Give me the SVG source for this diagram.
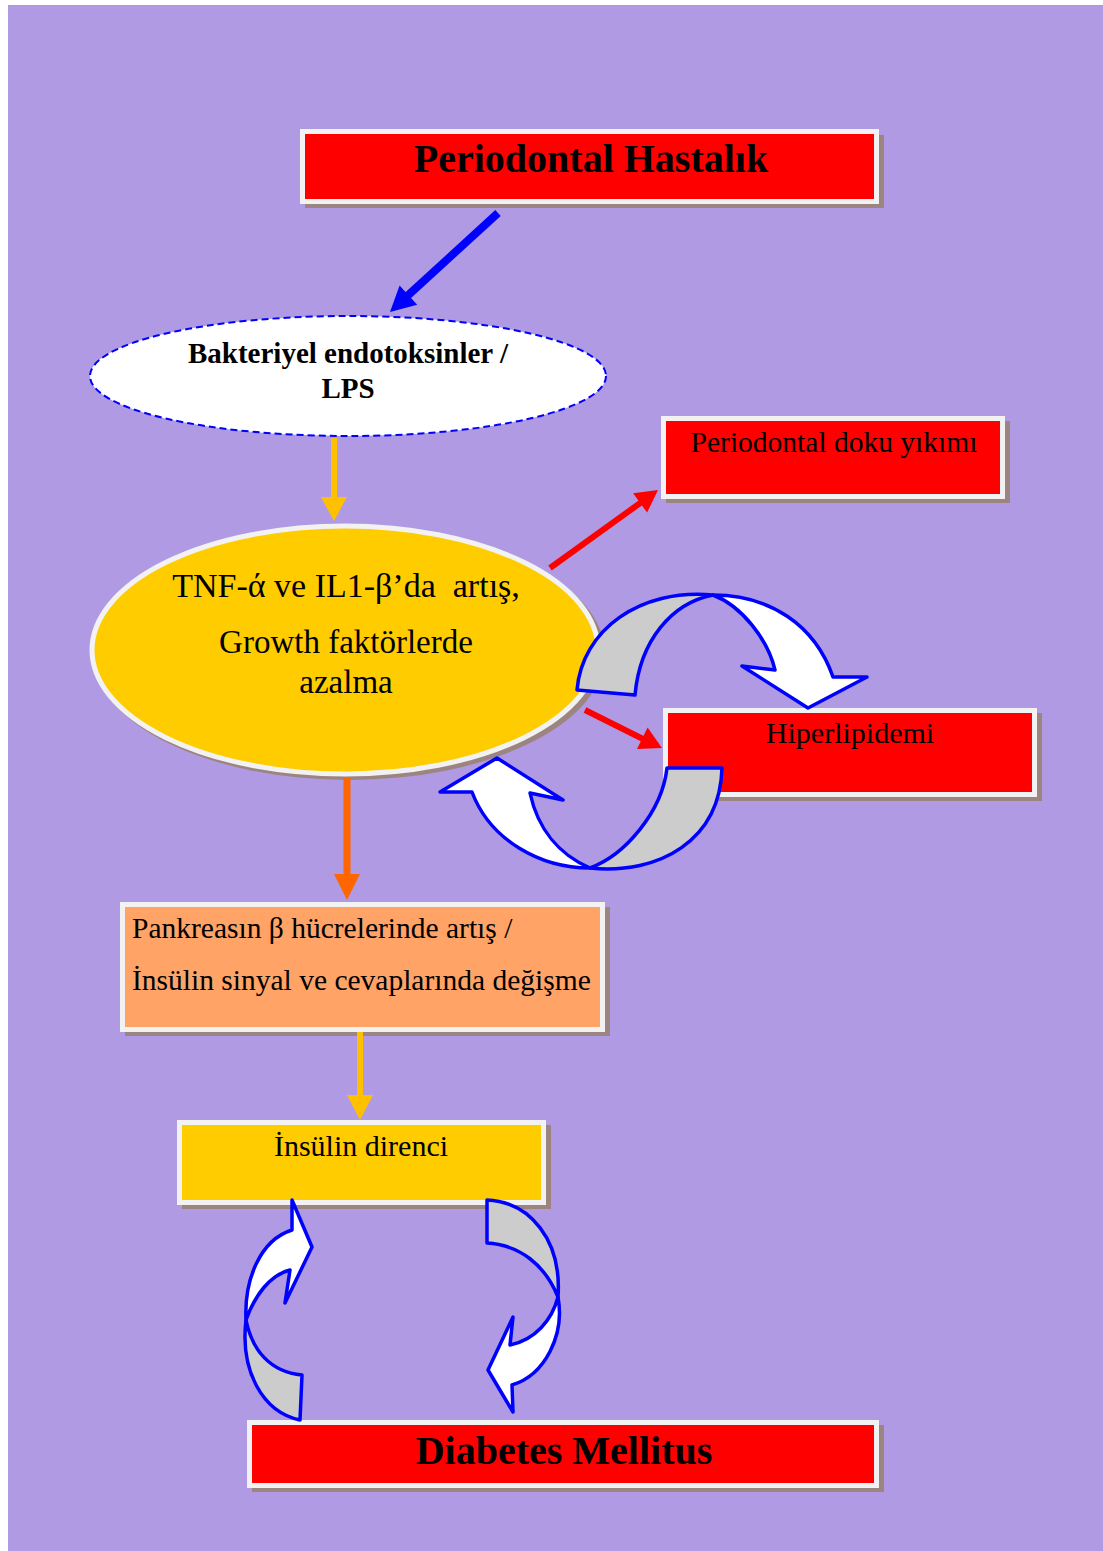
<svg xmlns="http://www.w3.org/2000/svg" width="1103" height="1551" viewBox="0 0 1103 1551">
<style>
.box{stroke:#F2F2F2;stroke-width:5}
.shadow{fill:#9C8580}
.red{fill:#FF0000}
.t{font-family:"Liberation Serif","Times New Roman",serif;fill:#000;text-anchor:middle}
.l{text-anchor:start}
.b{font-weight:bold}
.curve{stroke:#0000FF;stroke-width:3.5;stroke-linejoin:round}
.gray{fill:#CCCCCC}
.white{fill:#FFFFFF}
</style>
<rect x="0" y="0" width="1103" height="1551" fill="#FFFFFF"/>
<rect x="8" y="5" width="1095" height="1546" fill="#B09AE4"/>
<line x1="8" y1="5.5" x2="1103" y2="5.5" stroke="#A8A0B8" stroke-width="1"/>

<g id="node-periodontal-hastalik">
<rect class="shadow" x="305" y="135" width="579" height="73"/>
<rect class="box red" x="302.5" y="131.5" width="574" height="70"/>
<text class="t b" x="591" y="172" font-size="40">Periodontal Hastalık</text>
</g>

<g id="node-bakteriyel">
<ellipse cx="348" cy="376" rx="258" ry="60" fill="#FFFFFF" stroke="#0000FF" stroke-width="2" stroke-dasharray="7,4"/>
<text class="t b" x="348" y="363" font-size="29">Bakteriyel endotoksinler /</text>
<text class="t b" x="348" y="398" font-size="29">LPS</text>
</g>

<g id="node-tnf">
<ellipse cx="349" cy="654" rx="256" ry="126" class="shadow"/>
<ellipse cx="345" cy="650" rx="253" ry="124" fill="#FFCC00" stroke="#F2F2F2" stroke-width="5"/>
<text class="t" x="346" y="597" font-size="34" xml:space="preserve">TNF-ά ve IL1-β’da  artış,</text>
<text class="t" x="346" y="653" font-size="33">Growth faktörlerde</text>
<text class="t" x="346" y="693" font-size="33">azalma</text>
</g>

<g id="node-periodontal-doku">
<rect class="shadow" x="666" y="421" width="344" height="82"/>
<rect class="box red" x="663.5" y="418.5" width="339" height="78"/>
<text class="t" x="834" y="452" font-size="29.5">Periodontal doku yıkımı</text>
</g>

<g id="node-hiperlipidemi">
<rect class="shadow" x="668" y="713" width="374" height="88"/>
<rect class="box red" x="665.5" y="710.5" width="369" height="84"/>
<text class="t" x="850" y="743" font-size="30">Hiperlipidemi</text>
</g>

<g id="node-pankreas">
<rect class="shadow" x="125" y="907" width="485" height="129"/>
<rect class="box" fill="#FFA366" x="122.5" y="904.5" width="480" height="125"/>
<text class="t l" x="132" y="938" font-size="29.5">Pankreasın β hücrelerinde artış /</text>
<text class="t l" x="132" y="990" font-size="29.5">İnsülin sinyal ve cevaplarında değişme</text>
</g>

<g id="node-insulin-direnci">
<rect class="shadow" x="182" y="1125" width="369" height="84"/>
<rect class="box" fill="#FFCC00" x="179.5" y="1122.5" width="364" height="80"/>
<text class="t" x="361" y="1156" font-size="30">İnsülin direnci</text>
</g>

<g id="node-diabetes">
<rect class="shadow" x="252" y="1425" width="632" height="67"/>
<rect class="box red" x="249.5" y="1422.5" width="627" height="63"/>
<text class="t b" x="564" y="1464" font-size="40">Diabetes Mellitus</text>
</g>

<g id="connectors">
<line x1="498" y1="213" x2="404" y2="299" stroke="#0000FF" stroke-width="8"/>
<polygon points="390,312 417.2,304.7 399.6,285.5" fill="#0000FF"/>

<line x1="334" y1="438" x2="334" y2="500" stroke="#FFC000" stroke-width="6"/>
<polygon points="334,521 321,497 347,497" fill="#FFC000"/>

<line x1="550" y1="568" x2="643" y2="501" stroke="#FF0000" stroke-width="6"/>
<polygon points="658,490 647.1,512.6 633.1,493.2" fill="#FF0000"/>

<line x1="585" y1="710" x2="645" y2="740" stroke="#FF0000" stroke-width="6"/>
<polygon points="662,748 637,749 647.6,727.5" fill="#FF0000"/>

<line x1="347" y1="778" x2="347" y2="880" stroke="#FF6600" stroke-width="7"/>
<polygon points="347,900 334,874 360,874" fill="#FF6600"/>

<line x1="360" y1="1032" x2="360" y2="1100" stroke="#FFC000" stroke-width="6"/>
<polygon points="360,1120 347,1095 373,1095" fill="#FFC000"/>

<path class="curve gray" d="M577,690 C582,630 640,588 713,595 C672,603 640,640 635,695 Z"/>
<path class="curve white" d="M713,595 C770,595 815,625 833,677 L867,677 L808,708 L742,666 L775,670 C768,640 742,606 713,595 Z"/>

<path class="curve gray" d="M667,768 L722,768 C720,840 660,875 590,868 C625,855 662,812 667,768 Z"/>
<path class="curve white" d="M590,868 C540,868 490,840 472,792 L440,792 L497,758 L563,800 L530,793 C538,830 560,855 590,868 Z"/>

<path class="curve gray" d="M300,1420 C262,1412 240,1370 246,1320 C252,1350 270,1372 302,1375 Z"/>
<path class="curve white" d="M246,1320 C244,1280 260,1240 292,1230 L292,1200 L312,1247 L285,1303 L290,1270 C270,1275 255,1295 246,1320 Z"/>

<path class="curve gray" d="M487,1200 C530,1202 562,1240 558,1297 C545,1265 520,1245 487,1243 Z"/>
<path class="curve white" d="M558,1297 C565,1335 545,1375 512,1385 L513,1412 L488,1370 L513,1317 L510,1345 C535,1340 552,1320 558,1297 Z"/>
</g>
</svg>
